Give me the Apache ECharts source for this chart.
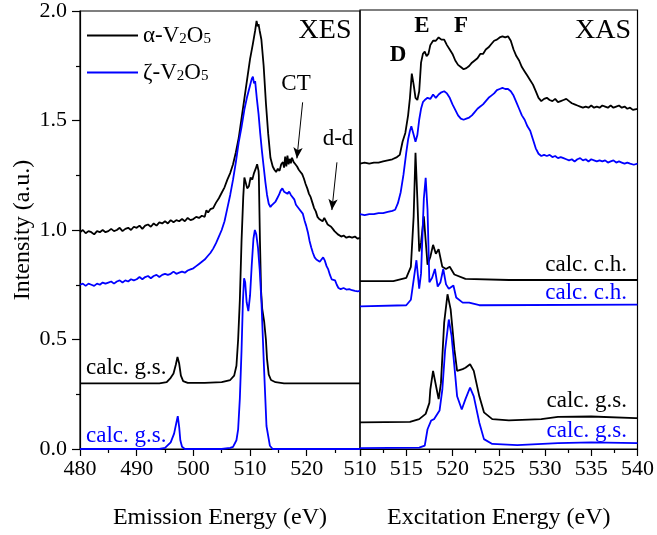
<!DOCTYPE html>
<html>
<head>
<meta charset="utf-8">
<script src="https://cdn.jsdelivr.net/npm/echarts@6/dist/echarts.min.js"></script>
<style>
html,body{margin:0;padding:0;background:#fff;}
#chart{width:657px;height:535px;}
</style>
</head>
<body>
<div id="chart"></div>
<script>
// ---------- DATA ----------
// XES (emission energy, eV) experimental
const xesAlphaExp = [[480.0,0.99],[480.5,1.0],[481.0,0.985],[481.5,0.995],[482.0,0.99],[482.5,0.98],[483.0,0.995],[483.5,0.99],[484.0,1.0],[484.5,0.99],[485.0,0.995],[485.5,1.005],[486.0,0.995],[486.5,1.0],[487.0,1.01],[487.5,0.995],[488.0,1.005],[488.5,1.01],[489.0,1.0],[489.5,1.015],[490.0,1.01],[490.5,1.02],[491.0,1.005],[491.5,1.02],[492.0,1.025],[492.5,1.015],[493.0,1.03],[493.5,1.02],[494.0,1.035],[494.5,1.03],[495.0,1.04],[495.5,1.03],[496.0,1.045],[496.5,1.035],[497.0,1.045],[497.5,1.04],[498.0,1.05],[498.5,1.04],[499.0,1.055],[499.5,1.045],[500.0,1.05],[500.5,1.06],[501.0,1.055],[501.5,1.065],[502.0,1.06],[502.3,1.09],[502.6,1.08],[503.0,1.095],[503.5,1.1],[504.0,1.125],[504.5,1.145],[505.0,1.17],[505.5,1.195],[506.0,1.23],[506.5,1.26],[507.0,1.30],[507.5,1.355],[508.0,1.42],[508.5,1.51],[509.0,1.60],[509.5,1.69],[510.0,1.78],[510.5,1.85],[510.9,1.91],[511.15,1.955],[511.35,1.93],[511.5,1.94],[511.7,1.91],[512.0,1.87],[512.4,1.75],[512.8,1.58],[513.2,1.44],[513.6,1.33],[514.0,1.29],[514.3,1.275],[514.6,1.265],[514.9,1.28],[515.2,1.27],[515.5,1.30],[515.8,1.31],[516.0,1.285],[516.2,1.335],[516.4,1.29],[516.6,1.34],[516.8,1.30],[517.0,1.325],[517.2,1.305],[517.4,1.33],[517.7,1.31],[518.0,1.3],[518.3,1.29],[518.6,1.275],[518.9,1.265],[519.2,1.255],[519.5,1.235],[519.8,1.21],[520.1,1.19],[520.4,1.165],[520.7,1.15],[521.0,1.125],[521.3,1.1],[521.6,1.085],[521.9,1.06],[522.2,1.05],[522.5,1.045],[522.8,1.04],[523.1,1.055],[523.4,1.04],[523.7,1.025],[524.0,1.03],[524.3,1.015],[524.6,1.005],[524.9,0.995],[525.2,0.99],[525.5,0.98],[525.8,0.975],[526.1,0.97],[526.5,0.975],[527.0,0.965],[527.5,0.97],[528.0,0.965],[528.5,0.97],[529.0,0.96],[529.4,0.965]];

const xesZetaExp = [[480.0,0.75],[480.5,0.755],[481.0,0.745],[481.5,0.755],[482.0,0.75],[482.5,0.745],[483.0,0.755],[483.5,0.75],[484.0,0.76],[484.5,0.755],[485.0,0.76],[485.5,0.765],[486.0,0.755],[486.5,0.765],[487.0,0.77],[487.5,0.76],[488.0,0.77],[488.5,0.765],[489.0,0.775],[489.5,0.77],[490.0,0.775],[490.5,0.785],[491.0,0.775],[491.5,0.785],[492.0,0.79],[492.5,0.78],[493.0,0.79],[493.5,0.795],[494.0,0.785],[494.5,0.795],[495.0,0.80],[495.5,0.795],[496.0,0.80],[496.5,0.81],[497.0,0.80],[497.5,0.805],[498.0,0.81],[498.5,0.805],[499.0,0.815],[499.5,0.82],[500.0,0.825],[500.5,0.835],[501.0,0.845],[501.5,0.855],[502.0,0.865],[502.5,0.88],[503.0,0.895],[503.5,0.915],[504.0,0.94],[504.5,0.97],[505.0,1.0],[505.5,1.04],[506.0,1.10],[506.5,1.16],[507.0,1.23],[507.5,1.31],[508.0,1.40],[508.5,1.47],[509.0,1.55],[509.5,1.61],[510.0,1.66],[510.3,1.69],[510.5,1.70],[510.7,1.67],[510.9,1.68],[511.2,1.60],[511.5,1.53],[511.8,1.44],[512.1,1.36],[512.4,1.29],[512.7,1.22],[513.0,1.16],[513.3,1.12],[513.6,1.105],[513.9,1.115],[514.2,1.12],[514.5,1.13],[514.8,1.145],[515.1,1.16],[515.4,1.18],[515.7,1.19],[516.0,1.175],[516.3,1.18],[516.6,1.165],[516.9,1.175],[517.2,1.16],[517.5,1.165],[517.8,1.14],[518.1,1.115],[518.4,1.105],[518.7,1.095],[519.0,1.09],[519.3,1.075],[519.6,1.045],[519.9,1.02],[520.2,0.99],[520.5,0.95],[520.8,0.92],[521.1,0.895],[521.4,0.875],[521.7,0.865],[522.0,0.86],[522.3,0.855],[522.6,0.865],[522.9,0.875],[523.2,0.86],[523.5,0.835],[523.8,0.82],[524.1,0.795],[524.4,0.775],[524.7,0.77],[525.0,0.77],[525.3,0.75],[525.6,0.735],[526.0,0.73],[526.5,0.735],[527.0,0.728],[527.5,0.73],[528.0,0.725],[528.5,0.722],[529.0,0.72],[529.4,0.722]];

// XES calculated ground state
const xesAlphaCalc = [[480,0.30],[490,0.30],[494,0.30],[495.3,0.305],[496.0,0.325],[496.5,0.345],[496.9,0.385],[497.2,0.42],[497.5,0.39],[497.8,0.335],[498.2,0.31],[499,0.302],[502,0.302],[505,0.305],[506.5,0.315],[507.2,0.335],[507.6,0.38],[507.9,0.50],[508.2,0.68],[508.5,0.95],[508.8,1.15],[509.0,1.24],[509.2,1.22],[509.5,1.19],[509.8,1.20],[510.1,1.24],[510.4,1.23],[510.7,1.26],[511.0,1.28],[511.25,1.30],[511.5,1.27],[511.55,1.25],[511.75,0.95],[511.95,0.72],[512.15,0.64],[512.5,0.58],[512.8,0.50],[513.0,0.41],[513.3,0.34],[513.7,0.315],[514.5,0.305],[516,0.30],[520,0.30],[529.4,0.30]];

const xesZetaCalc = [[480,0.0],[494,0.0],[495,0.005],[496,0.03],[496.6,0.07],[497.0,0.12],[497.25,0.15],[497.5,0.10],[497.7,0.04],[498.0,0.01],[498.5,0.0],[505,0.0],[506.5,0.005],[507.0,0.01],[507.6,0.04],[507.9,0.09],[508.2,0.23],[508.5,0.45],[508.75,0.68],[508.95,0.78],[509.15,0.76],[509.4,0.67],[509.7,0.63],[510.0,0.70],[510.3,0.84],[510.6,0.96],[510.85,1.0],[511.1,0.98],[511.4,0.92],[511.7,0.82],[512.0,0.68],[512.45,0.38],[512.9,0.105],[513.5,0.015],[514,0.0],[529.4,0.0]];

// XAS (excitation energy, eV) experimental
const xasAlphaExp = [[510.0,1.30],[510.5,1.305],[511.0,1.30],[511.5,1.305],[512.0,1.305],[512.5,1.31],[513.0,1.315],[513.5,1.32],[514.0,1.33],[514.3,1.34],[514.6,1.40],[514.9,1.44],[515.2,1.52],[515.4,1.60],[515.6,1.71],[515.8,1.66],[516.0,1.60],[516.2,1.59],[516.4,1.63],[516.6,1.76],[516.8,1.80],[517.0,1.81],[517.2,1.79],[517.4,1.80],[517.6,1.84],[517.9,1.86],[518.2,1.86],[518.5,1.875],[518.8,1.865],[519.1,1.865],[519.4,1.84],[519.7,1.82],[520.0,1.80],[520.3,1.77],[520.6,1.75],[520.9,1.74],[521.2,1.73],[521.5,1.735],[521.8,1.745],[522.1,1.76],[522.4,1.77],[522.7,1.78],[523.0,1.80],[523.3,1.80],[523.6,1.82],[523.9,1.83],[524.2,1.845],[524.5,1.86],[524.8,1.865],[525.1,1.875],[525.4,1.88],[525.7,1.875],[526.0,1.88],[526.3,1.86],[526.6,1.82],[526.9,1.79],[527.2,1.77],[527.5,1.74],[527.8,1.72],[528.1,1.70],[528.4,1.68],[528.7,1.66],[529.0,1.63],[529.3,1.60],[529.6,1.585],[529.9,1.595],[530.2,1.60],[530.5,1.59],[530.8,1.585],[531.1,1.595],[531.4,1.58],[531.7,1.585],[532.0,1.59],[532.3,1.595],[532.6,1.585],[532.9,1.575],[533.2,1.57],[533.5,1.565],[533.8,1.56],[534.1,1.555],[534.4,1.56],[534.7,1.555],[535.0,1.565],[535.3,1.555],[535.6,1.56],[535.9,1.555],[536.2,1.565],[536.5,1.56],[536.8,1.555],[537.1,1.565],[537.4,1.555],[537.7,1.56],[538.0,1.565],[538.3,1.555],[538.6,1.56],[538.9,1.55],[539.2,1.555],[539.5,1.545],[540.0,1.55]];

const xasZetaExp = [[510.0,1.07],[510.5,1.065],[511.0,1.07],[511.5,1.07],[512.0,1.075],[512.5,1.075],[513.0,1.08],[513.5,1.085],[513.8,1.09],[514.1,1.12],[514.4,1.17],[514.7,1.25],[515.0,1.35],[515.2,1.41],[515.4,1.45],[515.55,1.47],[515.75,1.44],[516.0,1.40],[516.2,1.43],[516.4,1.50],[516.6,1.55],[516.8,1.58],[517.0,1.59],[517.3,1.60],[517.6,1.595],[517.9,1.615],[518.2,1.60],[518.5,1.615],[518.8,1.625],[519.1,1.63],[519.4,1.62],[519.7,1.60],[520.0,1.57],[520.3,1.545],[520.6,1.52],[520.9,1.505],[521.2,1.50],[521.5,1.505],[521.8,1.51],[522.1,1.52],[522.4,1.535],[522.7,1.55],[523.0,1.56],[523.3,1.57],[523.6,1.585],[523.9,1.60],[524.2,1.61],[524.5,1.62],[524.8,1.635],[525.1,1.64],[525.4,1.645],[525.7,1.64],[526.0,1.64],[526.3,1.63],[526.6,1.61],[526.9,1.58],[527.2,1.55],[527.5,1.52],[527.8,1.50],[528.1,1.47],[528.4,1.45],[528.7,1.41],[529.0,1.37],[529.3,1.345],[529.6,1.335],[529.9,1.34],[530.2,1.335],[530.5,1.34],[530.8,1.33],[531.1,1.335],[531.4,1.325],[531.7,1.33],[532.0,1.325],[532.3,1.32],[532.6,1.315],[532.9,1.32],[533.2,1.31],[533.5,1.32],[533.8,1.325],[534.1,1.315],[534.4,1.32],[534.7,1.31],[535.0,1.32],[535.3,1.315],[535.6,1.31],[535.9,1.315],[536.2,1.31],[536.5,1.315],[536.8,1.305],[537.1,1.31],[537.4,1.315],[537.7,1.305],[538.0,1.31],[538.3,1.305],[538.6,1.30],[538.9,1.305],[539.2,1.30],[539.6,1.295],[540.0,1.30]];

// XAS calculated core hole
const xasAlphaCh = [[510,0.765],[513.6,0.765],[515.0,0.78],[515.5,0.83],[515.8,1.06],[516.0,1.35],[516.2,1.14],[516.4,0.90],[516.6,0.94],[516.9,1.06],[517.1,0.95],[517.3,0.84],[517.6,0.875],[517.9,0.93],[518.2,0.89],[518.5,0.91],[518.9,0.83],[519.3,0.82],[519.7,0.83],[520.2,0.795],[521.4,0.775],[526.1,0.77],[540,0.77]];
const xasZetaCh = [[510,0.65],[515.0,0.655],[515.5,0.68],[515.9,0.80],[516.1,0.86],[516.4,0.73],[516.6,0.80],[516.9,1.14],[517.1,1.235],[517.3,1.09],[517.5,0.76],[517.8,0.78],[518.1,0.82],[518.4,0.74],[518.7,0.76],[519.0,0.82],[519.3,0.75],[519.6,0.73],[520.1,0.745],[520.4,0.69],[521.1,0.667],[521.8,0.667],[522.9,0.655],[540,0.658]];

// XAS calculated ground state
const xasAlphaGs = [[510,0.121],[515.4,0.124],[516.4,0.136],[517.1,0.16],[517.5,0.21],[517.6,0.27],[517.9,0.356],[518.3,0.27],[518.5,0.227],[518.75,0.30],[519.1,0.576],[519.46,0.705],[519.8,0.636],[520.2,0.455],[520.5,0.356],[521.1,0.364],[521.4,0.37],[521.9,0.386],[522.3,0.356],[522.9,0.24],[523.4,0.167],[524.3,0.136],[526.1,0.13],[529.6,0.136],[531.4,0.146],[535,0.148],[539.8,0.141],[540,0.141]];
const xasZetaGs = [[510,0.004],[516.4,0.006],[517.0,0.015],[517.3,0.09],[517.7,0.13],[518.0,0.136],[518.6,0.175],[518.9,0.27],[519.2,0.45],[519.6,0.59],[519.9,0.515],[520.3,0.333],[520.5,0.24],[521.0,0.18],[521.4,0.227],[521.9,0.28],[522.3,0.24],[522.9,0.12],[523.4,0.045],[524.3,0.023],[527,0.018],[531.4,0.027],[535,0.03],[540,0.027]];

// annotation arrows (data coordinates: [energy, intensity])
const ctArrow = [[519.28, 1.583], [518.27, 1.327]];
const ddArrow = [[525.33, 1.309], [524.44, 1.091]];

// axis ranges
const xesRange = [480, 529.4];
const xasRange = [510, 540];
const yRange = [0, 2];

// ---------- CHART ----------
const FONT = '"Liberation Serif","Times New Roman",serif';
const BLACK = '#000000';
const BLUE = '#0000ff';
const chart = echarts.init(document.getElementById('chart'), null, {renderer: 'canvas'});

function lineSeries(name, data, color, xi, extra) {
  return Object.assign({
    name: name, type: 'line', data: data, xAxisIndex: xi, yAxisIndex: xi,
    showSymbol: false, symbol: 'none', smooth: false, animation: false,
    lineStyle: {color: color, width: 1.8}, itemStyle: {color: color},
    z: 3
  }, extra || {});
}

const legendText = {
  alpha: 'α-V{s|2}O{s|5}',
  zeta: 'ζ-V{s|2}O{s|5}'
};
function legendCfg(name, top) {
  return {
    data: [name], left: 87, top: top, padding: 0, orient: 'vertical',
    icon: 'rect', itemWidth: 51, itemHeight: 2, itemGap: 0, selectedMode: false,
    formatter: n => legendText[n],
    textStyle: {fontSize: 23, fontFamily: FONT, color: BLACK, padding: [0,0,0,0],
      rich: {s: {fontSize: 15, fontFamily: FONT, color: BLACK, lineHeight: 15, padding: [15,0,0,0], verticalAlign: 'bottom'}}}
  };
}

function txt(text, x, y, opts) {
  opts = opts || {};
  return {
    type: 'text', x: x, y: y, z: 10, silent: true,
    style: {
      text: text, fontSize: opts.size || 23, fontFamily: FONT,
      fontWeight: opts.bold ? 'bold' : 'normal',
      fill: opts.color || BLACK, align: opts.align || 'left', verticalAlign: 'middle'
    }
  };
}

const axisLineStyle = {color: BLACK, width: 1.2};
const labelStyle = {fontSize: 22, fontFamily: FONT, color: BLACK};
const nameStyle = {fontSize: 24, fontFamily: FONT, color: BLACK};

const option = {
  animation: false,
  backgroundColor: '#ffffff',
  grid: [
    {left: 80, top: 10, width: 280, height: 440, show: true, borderColor: BLACK, borderWidth: 1.2, backgroundColor: 'transparent'},
    {left: 360, top: 10, width: 280, height: 440, show: true, borderColor: BLACK, borderWidth: 1.2, backgroundColor: 'transparent'}
  ],
  xAxis: [
    {gridIndex: 0, type: 'value', min: xesRange[0], max: xesRange[1], interval: 10,
      axisLine: {show: true, lineStyle: axisLineStyle},
      axisTick: {show: true, inside: false, length: 7, lineStyle: axisLineStyle},
      minorTick: {show: true, splitNumber: 2, length: 4, lineStyle: axisLineStyle},
      splitLine: {show: false}, minorSplitLine: {show: false},
      axisLabel: Object.assign({margin: 9, showMaxLabel: false, formatter: v => (Math.abs(v % 10) < 1e-6 ? String(v) : '')}, labelStyle),
      name: 'Emission Energy (eV)', nameLocation: 'middle', nameGap: 57, nameTextStyle: nameStyle},
    {gridIndex: 1, type: 'value', min: xasRange[0], max: xasRange[1], interval: 5,
      axisLine: {show: true, lineStyle: axisLineStyle},
      axisTick: {show: true, inside: false, length: 7, lineStyle: axisLineStyle},
      minorTick: {show: true, splitNumber: 2, length: 4, lineStyle: axisLineStyle},
      splitLine: {show: false}, minorSplitLine: {show: false},
      axisLabel: Object.assign({margin: 9}, labelStyle),
      name: 'Excitation Energy (eV)', nameLocation: 'middle', nameGap: 57, nameTextStyle: nameStyle}
  ],
  yAxis: [
    {gridIndex: 0, type: 'value', min: yRange[0], max: yRange[1], interval: 0.5,
      axisLine: {show: true, lineStyle: axisLineStyle},
      axisTick: {show: true, inside: false, length: 8, lineStyle: axisLineStyle},
      minorTick: {show: true, splitNumber: 2, length: 4, lineStyle: axisLineStyle},
      splitLine: {show: false}, minorSplitLine: {show: false},
      axisLabel: Object.assign({margin: 13, formatter: v => v.toFixed(1)}, labelStyle),
      name: 'Intensity (a.u.)', nameLocation: 'middle', nameGap: 45, nameRotate: 90, nameTextStyle: nameStyle},
    {gridIndex: 1, type: 'value', min: yRange[0], max: yRange[1], interval: 0.5,
      axisLine: {show: false}, axisTick: {show: false}, axisLabel: {show: false}, splitLine: {show: false}}
  ],
  legend: [legendCfg('alpha', 17), legendCfg('zeta', 54)],
  series: [
    lineSeries('alpha', xesAlphaExp, BLACK, 0, {
      markLine: {
        silent: true, symbol: ['none', 'arrow'], symbolSize: [7, 11], animation: false,
        label: {show: false}, lineStyle: {color: BLACK, width: 1, type: 'solid'},
        emphasis: {disabled: true},
        data: [
          [{coord: ctArrow[0]}, {coord: ctArrow[1]}],
          [{coord: ddArrow[0]}, {coord: ddArrow[1]}]
        ]
      }
    }),
    lineSeries('zeta', xesZetaExp, BLUE, 0),
    lineSeries('xesAlphaCalc', xesAlphaCalc, BLACK, 0),
    lineSeries('xesZetaCalc', xesZetaCalc, BLUE, 0),
    lineSeries('xasAlphaExp', xasAlphaExp, BLACK, 1),
    lineSeries('xasZetaExp', xasZetaExp, BLUE, 1),
    lineSeries('xasAlphaCh', xasAlphaCh, BLACK, 1),
    lineSeries('xasZetaCh', xasZetaCh, BLUE, 1),
    lineSeries('xasAlphaGs', xasAlphaGs, BLACK, 1),
    lineSeries('xasZetaGs', xasZetaGs, BLUE, 1)
  ],
  graphic: [
    txt('XES', 325, 31, {size: 28, align: 'center'}),
    txt('XAS', 603, 31, {size: 28, align: 'center'}),
    txt('CT', 296, 84, {align: 'center'}),
    txt('d-d', 338, 139, {align: 'center'}),
    txt('D', 398, 55, {bold: true, align: 'center'}),
    txt('E', 422, 26, {bold: true, align: 'center'}),
    txt('F', 461, 26, {bold: true, align: 'center'}),
    txt('calc. g.s.', 86, 368, {}),
    txt('calc. g.s.', 86, 436, {color: BLUE}),
    txt('calc. c.h.', 627, 265, {align: 'right'}),
    txt('calc. c.h.', 627, 293, {align: 'right', color: BLUE}),
    txt('calc. g.s.', 627, 401, {align: 'right'}),
    txt('calc. g.s.', 627, 431, {align: 'right', color: BLUE})
  ]
};
chart.setOption(option);
</script>
</body>
</html>
